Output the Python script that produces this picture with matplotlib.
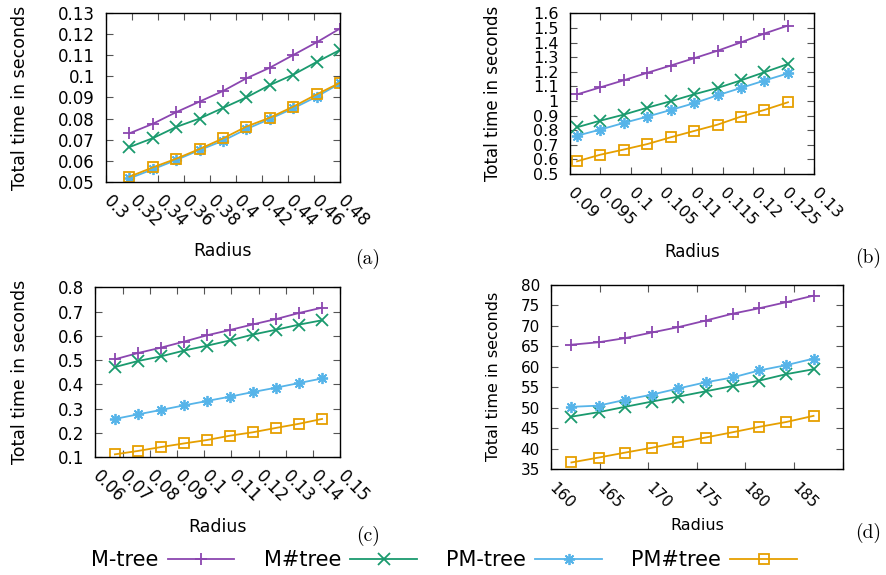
import numpy as np
import matplotlib.pyplot as plt

W, H = 886, 575

series = ["M-tree", "M#tree", "PM-tree", "PM#tree"]
colors = ["#8b46b0", "#1a9a6e", "#56b4e9", "#e69f00"]
markers = ["+", "x", (8, 2, 0), "s"]

# (a)
xa = [0.318, 0.336, 0.354, 0.372, 0.390, 0.408, 0.426, 0.444, 0.462, 0.480]
ya = [
    [0.0730, 0.0775, 0.0830, 0.0880, 0.0930, 0.0990, 0.1040, 0.1100, 0.1160, 0.1225],
    [0.0665, 0.0707, 0.0760, 0.0800, 0.0850, 0.0900, 0.0958, 0.1007, 0.1067, 0.1124],
    [0.0517, 0.0560, 0.0604, 0.0651, 0.0695, 0.0750, 0.0798, 0.0848, 0.0903, 0.0966],
    [0.0525, 0.0569, 0.0610, 0.0656, 0.0706, 0.0762, 0.0804, 0.0856, 0.0914, 0.0969],
]
# (b)
xb = [0.0912, 0.0950, 0.0988, 0.1027, 0.1065, 0.1103, 0.1142, 0.1180, 0.1218, 0.1257]
yb = [
    [1.045, 1.093, 1.141, 1.193, 1.242, 1.292, 1.344, 1.401, 1.461, 1.516],
    [0.820, 0.865, 0.906, 0.954, 0.998, 1.045, 1.089, 1.141, 1.196, 1.253],
    [0.762, 0.804, 0.849, 0.893, 0.938, 0.984, 1.039, 1.089, 1.139, 1.189],
    [0.587, 0.632, 0.667, 0.705, 0.751, 0.794, 0.838, 0.893, 0.938, 0.991],
]
# (c)
xc = [0.0672, 0.0757, 0.0841, 0.0926, 0.1010, 0.1095, 0.1179, 0.1264, 0.1348, 0.1433]
yc = [
    [0.503, 0.529, 0.551, 0.576, 0.602, 0.624, 0.647, 0.669, 0.694, 0.716],
    [0.471, 0.496, 0.515, 0.539, 0.559, 0.581, 0.605, 0.625, 0.646, 0.664],
    [0.257, 0.276, 0.294, 0.313, 0.331, 0.349, 0.368, 0.386, 0.405, 0.424],
    [0.111, 0.125, 0.141, 0.156, 0.170, 0.188, 0.202, 0.220, 0.237, 0.257],
]
# (d)
xd = [162.1, 164.9, 167.6, 170.4, 173.1, 175.9, 178.7, 181.4, 184.2, 187.0]
yd = [
    [65.4, 66.0, 67.0, 68.4, 69.7, 71.3, 73.0, 74.3, 75.8, 77.4],
    [47.8, 48.9, 50.2, 51.5, 52.7, 54.0, 55.3, 56.6, 58.2, 59.4],
    [50.2, 50.5, 51.9, 53.2, 54.7, 56.2, 57.4, 59.1, 60.4, 62.0],
    [36.6, 37.8, 39.0, 40.2, 41.5, 42.7, 44.0, 45.3, 46.5, 48.0],
]

xt_a = ["0.3", "0.32", "0.34", "0.36", "0.38", "0.4", "0.42", "0.44", "0.46", "0.48"]
yt_a = ["0.05", "0.06", "0.07", "0.08", "0.09", "0.1", "0.11", "0.12", "0.13"]
xt_b = ["0.09", "0.095", "0.1", "0.105", "0.11", "0.115", "0.12", "0.125", "0.13"]
yt_b = ["0.5", "0.6", "0.7", "0.8", "0.9", "1", "1.1", "1.2", "1.3", "1.4", "1.5", "1.6"]
xt_c = ["0.06", "0.07", "0.08", "0.09", "0.1", "0.11", "0.12", "0.13", "0.14", "0.15"]
yt_c = ["0.1", "0.2", "0.3", "0.4", "0.5", "0.6", "0.7", "0.8"]
xt_d = ["160", "165", "170", "175", "180", "185", ""]
yt_d = ["35", "40", "45", "50", "55", "60", "65", "70", "75", "80"]

panels = [
    # box (left, top, right, bottom px), x, ys, xticks, yticks, fontsize, ylabel pos, xlabel pos, tag, tag pos
    ((106, 12.7, 340, 182), xa, ya, xt_a, yt_a, 12, (20, 98), (223, 251), "(a)", (368, 259)),
    ((569.7, 13.3, 814.3, 174), xb, yb, xt_b, yt_b, 11.5, (493, 93), (692, 252), "(b)", (868, 258)),
    ((95.3, 287.3, 340.3, 457), xc, yc, xt_c, yt_c, 12, (20, 372), (218, 527), "(c)", (368, 536)),
    ((551, 285, 842.7, 469), xd, yd, xt_d, yt_d, 11, (493, 376), (697, 526), "(d)", (868, 533)),
]

fig = plt.figure(figsize=(W / 100, H / 100), dpi=100)

def fx(x):
    return x / W

def fy(y):
    return 1 - y / H

handles = []
for box, xs, ys, xt, yt, fs, ylp, xlp, tag, tagp in panels:
    l, t, r, b = box
    ax = fig.add_axes([fx(l), fy(b), (r - l) / W, (b - t) / H])
    for i in range(4):
        ms = 6.5 if markers[i] == "s" else 8
        h, = ax.plot(xs, ys[i], color=colors[i], lw=1.3, marker=markers[i],
                     markersize=ms, markerfacecolor="none", markeredgewidth=1.3,
                     label=series[i])
        if len(handles) < 4:
            handles.append(h)
    xv = [float(s) for s in xt if s]
    if xt[-1] == "":
        xv.append(xv[-1] + (xv[1] - xv[0]))
    yv = [float(s) for s in yt]
    ax.set_xlim(xv[0], xv[-1])
    ax.set_ylim(yv[0], yv[-1])
    ax.set_xticks(xv)
    ax.set_xticklabels(xt, rotation=-45, ha="left", va="center",
                       rotation_mode="anchor", fontsize=fs)
    ax.set_yticks(yv)
    ax.set_yticklabels(yt, fontsize=fs)
    ax.tick_params(direction="in", top=True, right=True, length=5, width=0.8,
                   color="#555555")
    ax.tick_params(axis="y", pad=8)
    ax.tick_params(axis="x", pad=12)
    for s in ax.spines.values():
        s.set_linewidth(1.0)
    fig.text(fx(ylp[0]), fy(ylp[1]), "Total time in seconds", rotation=90,
             ha="center", va="center", fontsize=fs + 0.5)
    fig.text(fx(xlp[0]), fy(xlp[1]), "Radius", ha="center", va="center",
             fontsize=fs + 0.5)
    fig.text(fx(tagp[0]), fy(tagp[1]), tag, ha="center", va="center",
             fontsize=14, family="cmr10")

fig.legend(handles=handles, loc="center", bbox_to_anchor=(fx(444), fy(560)),
           ncol=4, frameon=False, markerfirst=False, fontsize=15,
           handlelength=3.2, handletextpad=0.45, columnspacing=1.4,
           borderaxespad=0, borderpad=0)

fig.savefig("out.png", dpi=100)
